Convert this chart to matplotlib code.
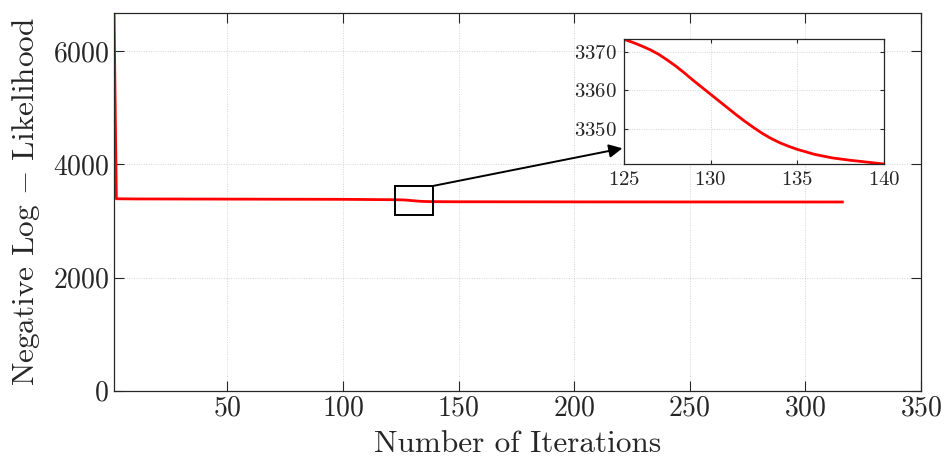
import numpy as np
import matplotlib
matplotlib.use('Agg')
import matplotlib.pyplot as plt
from matplotlib.patches import Rectangle

plt.rcParams['font.family'] = 'serif'
plt.rcParams['font.serif'] = ['cmr10']
plt.rcParams['mathtext.fontset'] = 'cm'
plt.rcParams['axes.formatter.use_mathtext'] = True

# значения
iters = [1, 2, 10, 50, 100, 120,
         125, 125.5, 126, 126.5, 127, 127.5, 128, 128.5, 129, 129.5, 130,
         130.5, 131, 131.5, 132, 132.5, 133, 133.5, 134, 134.5, 135,
         136, 137, 138, 139, 140,
         150, 200, 250, 316]
nll = [6680, 3392, 3389, 3386, 3382, 3376,
       3373.3, 3372.5, 3371.6, 3370.6, 3369.4, 3367.9, 3366.3, 3364.5, 3362.6, 3360.8, 3359.0,
       3357.2, 3355.4, 3353.6, 3351.9, 3350.3, 3348.8, 3347.5, 3346.4, 3345.5, 3344.7,
       3343.4, 3342.5, 3341.9, 3341.4, 3340.9,
       3339, 3337, 3336, 3335]

main_xticks = [50, 100, 150, 200, 250, 300, 350]
main_yticks = [0, 2000, 4000, 6000]
zoom_xticks = [125, 130, 135, 140]
zoom_yticks = [3350, 3360, 3370]
zoom_box = (122.5, 3112, 139, 3619)  # x0, y0, x1, y1

dark = '#262626'
grid_kw = dict(color='#d4d4d4', linestyle=(0, (1, 1.5)), linewidth=0.7)

fig = plt.figure(figsize=(9.44, 4.62), dpi=100)
ax = fig.add_axes([0.1208, 0.1543, 0.8548, 0.8182])
ax.plot(iters, nll, color='red', linewidth=2.0)
ax.set_xlim(1, 350)
ax.set_ylim(0, 6680)
ax.set_xticks(main_xticks)
ax.set_yticks(main_yticks)
ax.grid(True, **grid_kw)
ax.tick_params(direction='in', length=7, width=0.8, top=True, right=True,
               labelsize=20, colors=dark)
for s in ax.spines.values():
    s.set_color(dark)
    s.set_linewidth(0.9)
ax.set_xlabel('Number of Iterations', fontsize=22.5, color=dark, labelpad=6)
ax.set_ylabel('Negative Log $-$ Likelihood', fontsize=22.5, color=dark, labelpad=8)

x0, y0, x1, y1 = zoom_box
ax.add_patch(Rectangle((x0, y0), x1 - x0, y1 - y0, fill=False,
                       edgecolor='black', linewidth=1.4, zorder=5))

axins = fig.add_axes([0.661, 0.645, 0.2754, 0.27])
axins.plot(iters, nll, color='red', linewidth=2.0)
axins.set_xlim(125, 140)
axins.set_ylim(3340.9, 3373.3)
axins.set_xticks(zoom_xticks)
axins.set_yticks(zoom_yticks)
axins.grid(True, **grid_kw)
axins.tick_params(direction='in', length=3, width=0.8, top=True, right=True,
                  labelsize=15, colors=dark, pad=5)
for s in axins.spines.values():
    s.set_color(dark)
    s.set_linewidth(0.9)

ax.annotate('', xy=(-0.006, 0.126), xycoords=axins.transAxes,
            xytext=(x1, y1), textcoords='data',
            arrowprops=dict(arrowstyle='-|>', color='black', lw=1.4,
                            mutation_scale=20, shrinkA=0, shrinkB=0))

plt.savefig('out.png', dpi=100)
